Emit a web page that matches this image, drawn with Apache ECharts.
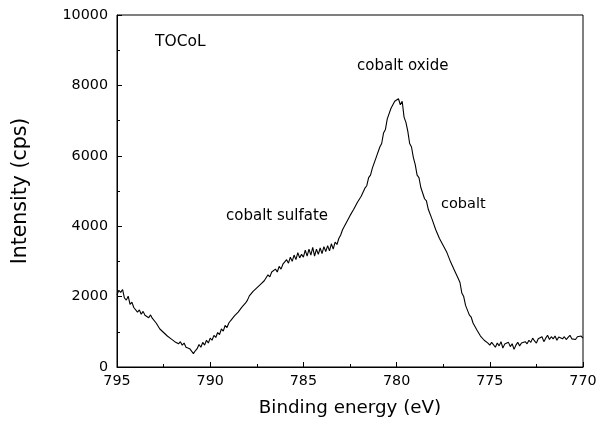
<!DOCTYPE html>
<html>
<head>
<meta charset="utf-8">
<script src="https://cdn.jsdelivr.net/npm/echarts@6/dist/echarts.min.js"></script>
<style>html,body{margin:0;padding:0;background:#fff}#c{width:604px;height:423px}</style>
</head>
<body>
<div id="c"></div>
<script>
// Sampling grid: binding energy from 795 eV down to 770 eV in 0.1 eV steps
const startEnergy = 795;
const energyStep = 0.1;
// Intensity (cps), one value per 0.1 eV
const intensity = [
  2050, 2180, 2120, 2200, 1960, 1900, 2010, 1780, 1840, 1690,
  1700, 1560, 1620, 1500, 1580, 1470, 1520, 1400, 1480, 1380,
  1420, 1250, 1200, 1080, 1130, 980, 950, 880, 920, 800,
  820, 720, 760, 660, 720, 620, 680, 560, 600, 520,
  560, 380, 460, 520, 640, 560, 700, 620, 760, 680,
  820, 760, 900, 840, 980, 920, 1080, 1020, 1180, 1120,
  1250, 1320, 1280, 1450, 1420, 1560, 1540, 1700, 1680, 1820,
  1900, 2020, 1980, 2150, 2100, 2250, 2200, 2350, 2300, 2450,
  2500, 2620, 2560, 2700, 2650, 2780, 2700, 2860, 2780, 2920,
  2880, 3050, 2950, 3120, 3000, 3180, 3050, 3250, 3100, 3200,
  3120, 3320, 3150, 3350, 3180, 3400, 3150, 3350, 3200, 3380,
  3220, 3420, 3280, 3450, 3300, 3500, 3350, 3550, 3480, 3650,
  3750, 3900, 3920, 4100, 4120, 4300, 4320, 4480, 4500, 4680,
  4700, 4850, 4880, 5080, 5150, 5380, 5450, 5650, 5700, 5950,
  6000, 6250, 6350, 6650, 6750, 7050, 7100, 7350, 7380, 7550,
  7500, 7620, 7450, 7550, 7100, 6950, 6700, 6350, 6250, 5950,
  5750, 5450, 5380, 5100, 5050, 4780, 4720, 4480, 4450, 4200,
  4150, 3900, 3880, 3650, 3620, 3450, 3420, 3250, 3200, 2980,
  2950, 2750, 2720, 2520, 2400, 2100, 2000, 1750, 1700, 1480,
  1420, 1250, 1220, 1060, 1020, 880, 900, 760, 800, 680,
  620, 700, 650, 560, 680, 600, 720, 540, 650, 600,
  700, 580, 660, 500, 620, 700, 600, 680, 640, 720,
  660, 760, 700, 820, 740, 680, 800, 760, 860, 720,
  820, 900, 780, 860, 800, 880, 760, 850, 900, 800,
  860, 780, 840, 900, 800, 850, 780, 860, 820, 880,
  820
];
const xTicks = [795, 790, 785, 780, 775, 770];
const yTicks = [0, 2000, 4000, 6000, 8000, 10000];
const annotations = ['TOCoL', 'cobalt oxide', 'cobalt sulfate', 'cobalt'];

const points = intensity.map((v, i) => [+(startEnergy - i * energyStep).toFixed(1), v]);

const font = '"DejaVu Sans", Verdana, sans-serif';
const chart = echarts.init(document.getElementById('c'), null, {renderer: 'canvas'});
chart.setOption({
  animation: false,
  backgroundColor: '#fff',
  grid: {left: 117, right: 21, top: 15, bottom: 56, show: true, borderColor: '#000', borderWidth: 1, backgroundColor: 'transparent'},
  xAxis: {
    type: 'value', inverse: true, min: 770, max: 795, interval: 5,
    name: 'Binding energy (eV)', nameLocation: 'middle', nameGap: 32,
    nameTextStyle: {fontFamily: font, fontSize: 18.3, color: '#000'},
    axisLine: {show: true, onZero: false, lineStyle: {color: '#000', width: 1}},
    axisTick: {show: true, inside: true, length: 5, lineStyle: {color: '#000'}},
    minorTick: {show: true, splitNumber: 2, length: 3, lineStyle: {color: '#000'}},
    axisLabel: {fontFamily: font, fontSize: 14.3, color: '#000', margin: 7,
      formatter: v => xTicks.includes(v) ? String(v) : ''},
    splitLine: {show: false}
  },
  yAxis: {
    type: 'value', min: 0, max: 10000, interval: 2000,
    name: 'Intensity (cps)', nameLocation: 'middle', nameGap: 86,
    nameTextStyle: {fontFamily: font, fontSize: 20.5, color: '#000'},
    axisLine: {show: true, lineStyle: {color: '#000', width: 1}},
    axisTick: {show: true, inside: true, length: 5, lineStyle: {color: '#000'}},
    minorTick: {show: true, splitNumber: 2, length: 3, lineStyle: {color: '#000'}},
    axisLabel: {fontFamily: font, fontSize: 14.3, color: '#000', margin: 9,
      formatter: v => yTicks.includes(v) ? String(v) : ''},
    splitLine: {show: false}
  },
  series: [{
    type: 'line', data: points, showSymbol: false, symbol: 'none',
    lineStyle: {color: '#000', width: 1.1}, silent: true
  }],
  graphic: [
    {type: 'text', left: 155, top: 34, style: {text: annotations[0], font: '15.5px ' + font, fill: '#000'}},
    {type: 'text', left: 357, top: 59, style: {text: annotations[1], font: '15px ' + font, fill: '#000'}},
    {type: 'text', left: 226, top: 209, style: {text: annotations[2], font: '15px ' + font, fill: '#000'}},
    {type: 'text', left: 441, top: 197, style: {text: annotations[3], font: '14.5px ' + font, fill: '#000'}}
  ]
});
</script>
</body>
</html>
